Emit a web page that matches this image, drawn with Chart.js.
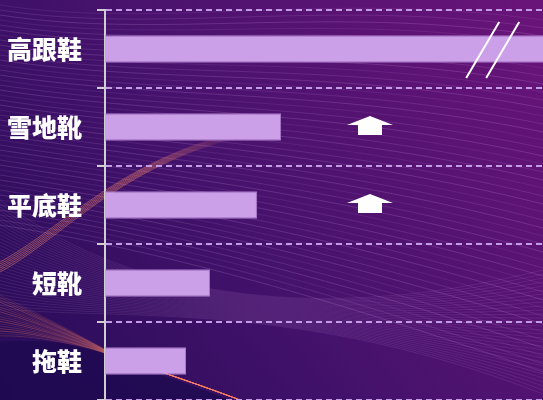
<!DOCTYPE html>
<html lang="zh">
<head>
<meta charset="UTF-8">
<title>鞋类</title>
<style>
  html, body { margin: 0; padding: 0; background: #3a1268; }
  #wrap { width: 543px; height: 400px; position: relative; }
</style>
</head>
<body>
<div id="wrap"><canvas id="chart"></canvas></div>
<script src="https://cdn.jsdelivr.net/npm/chart.js"></script>
<script>
const categories = ['高跟鞋', '雪地靴', '平底鞋', '短靴', '拖鞋'];
const values = [150, 40.2, 34.7, 24, 18.5];
const axisMax = 100;
// up arrows drawn next to these categories, at this x value
const arrowCats = ['雪地靴', '平底鞋'];
const arrowAt = 60.5;
// axis-break mark on bars longer than the axis
const breakAt = 88.4;

// background: gradient + thin swoosh lines
const backdrop = {
  id: 'backdrop',
  beforeDraw(chart) {
    const { ctx, width: w, height: h } = chart;
    ctx.save();
    const g = ctx.createLinearGradient(0, h, w, 0);
    g.addColorStop(0, '#260c58');
    g.addColorStop(0.45, '#45126c');
    g.addColorStop(1, '#6a1479');
    ctx.fillStyle = g;
    ctx.fillRect(0, 0, w, h);

    ctx.lineWidth = 1;
    for (let i = 0; i < 45; i++) {
      ctx.strokeStyle = 'rgba(225,170,240,' + (0.10 + (i % 3) * 0.04) + ')';
      ctx.beginPath();
      ctx.moveTo(0, 5 + i * 5);
      ctx.bezierCurveTo(160, 30 + i * 5, 330, -10 + i * 7, w, 20 + i * 8);
      ctx.stroke();
    }
    // second bundle sweeping down from the left
    for (let i = 0; i < 32; i++) {
      ctx.strokeStyle = 'rgba(225,170,240,0.11)';
      ctx.beginPath();
      ctx.moveTo(0, 200 + i * 3.5);
      ctx.bezierCurveTo(120, 290 + i, 300, 330 - i, w, 270 + i * 4);
      ctx.stroke();
    }
    // orange streak rising to the right, fading out
    const og = ctx.createLinearGradient(0, 0, 240, 0);
    og.addColorStop(0, 'rgba(255,140,100,0.45)');
    og.addColorStop(0.6, 'rgba(255,140,100,0.45)');
    og.addColorStop(1, 'rgba(255,140,100,0)');
    ctx.strokeStyle = og;
    for (let i = 0; i < 6; i++) {
      ctx.beginPath();
      ctx.moveTo(0, 262 + i * 2);
      ctx.bezierCurveTo(60, 230 + i * 2, 120, 160 + i, 240, 132 + i);
      ctx.stroke();
    }
    // orange band lower left
    for (let i = 0; i < 18; i++) {
      ctx.strokeStyle = 'rgba(255,130,95,' + (0.15 + (i % 4) * 0.06) + ')';
      ctx.beginPath();
      ctx.moveTo(0, 295 + i * 2.4);
      ctx.bezierCurveTo(40, 315 + i * 1.2, 80, 335 + i * 0.6, 120, 358);
      ctx.bezierCurveTo(170, 375, 200, 385, 240, 400);
      ctx.stroke();
    }
    // darker area bottom left under the band
    ctx.fillStyle = 'rgba(30,10,80,0.8)';
    ctx.beginPath();
    ctx.moveTo(0, h);
    ctx.lineTo(0, 342);
    ctx.bezierCurveTo(50, 338, 90, 345, 120, 360);
    ctx.bezierCurveTo(170, 378, 200, 388, 230, h);
    ctx.closePath();
    ctx.fill();
    ctx.restore();
  }
};

// arrows and axis-break marks
const marks = {
  id: 'marks',
  afterDatasetsDraw(chart) {
    const { ctx, scales: { x, y } } = chart;
    ctx.save();
    ctx.fillStyle = '#ffffff';
    arrowCats.forEach(c => {
      const cx = x.getPixelForValue(arrowAt);
      const cy = y.getPixelForValue(categories.indexOf(c));
      ctx.beginPath();
      ctx.moveTo(cx, cy - 11);
      ctx.lineTo(cx + 23, cy - 2);
      ctx.lineTo(cx + 12, cy - 2);
      ctx.lineTo(cx + 12, cy + 8);
      ctx.lineTo(cx - 12, cy + 8);
      ctx.lineTo(cx - 12, cy - 2);
      ctx.lineTo(cx - 23, cy - 2);
      ctx.closePath();
      ctx.fill();
    });
    ctx.strokeStyle = '#ffffff';
    ctx.lineWidth = 2;
    values.forEach((v, i) => {
      if (v <= axisMax) return;
      const bx = x.getPixelForValue(breakAt);
      const cy = y.getPixelForValue(i);
      [-10, 10].forEach(d => {
        ctx.beginPath();
        ctx.moveTo(bx + d - 16, cy + 29);
        ctx.lineTo(bx + d + 17, cy - 27);
        ctx.stroke();
      });
    });
    ctx.restore();
  }
};

new Chart(document.getElementById('chart'), {
  type: 'bar',
  data: {
    labels: categories,
    datasets: [{
      data: values,
      backgroundColor: '#cc9fe9',
      borderColor: '#a878c8',
      borderWidth: 1,
      barPercentage: 0.35,
      categoryPercentage: 1
    }]
  },
  options: {
    indexAxis: 'y',
    responsive: true,
    maintainAspectRatio: false,
    animation: false,
    layout: { padding: { top: 10, right: 0, bottom: 0, left: 0 } },
    plugins: { legend: { display: false }, tooltip: { enabled: false } },
    scales: {
      x: { display: false, min: 0, max: axisMax },
      y: {
        afterFit(scale) {
          scale.width = 105;
          scale.paddingTop = 0;
          scale.paddingBottom = 0;
        },
        grid: {
          color: '#c49ce6',
          lineWidth: 2,
          tickLength: 8,
          tickColor: '#cfcfcf',
          tickWidth: 2
        },
        border: { color: '#cfcfcf', width: 2, dash: [6, 4] },
        ticks: {
          color: '#ffffff',
          padding: 15,
          font: { family: '"Noto Sans CJK SC", sans-serif', size: 25, weight: '900' }
        }
      }
    }
  },
  plugins: [backdrop, marks]
});
</script>
</body>
</html>
